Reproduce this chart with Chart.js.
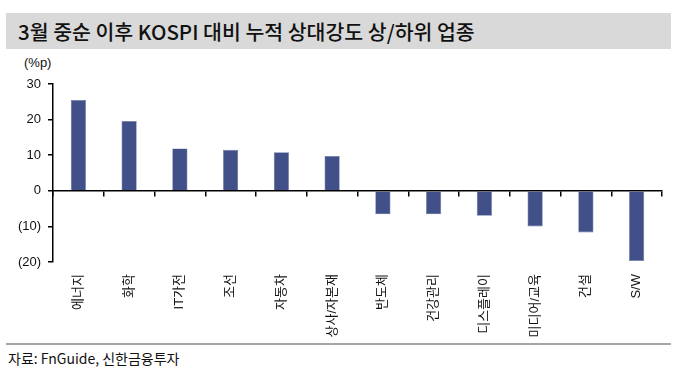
<!DOCTYPE html>
<html>
<head>
<meta charset="utf-8">
<script src="https://cdn.jsdelivr.net/npm/chart.js@4.4.0/dist/chart.umd.min.js"></script>
<style>
  html, body { margin: 0; padding: 0; background: #fff; }
  #wrap { position: relative; width: 682px; height: 379px; overflow: hidden; }
  #band { position: absolute; left: 6px; top: 13px; width: 665px; height: 36px; background: #d9d9d9; }
  #title { position: absolute; left: 18px; top: 13px; height: 36px; line-height: 36px; font-family: "Noto Sans CJK KR", sans-serif; font-size: 20.5px; font-weight: 500; color: #111; letter-spacing: 0; }
  #unit { position: absolute; left: 24px; top: 55px; font-family: "Liberation Sans", "Noto Sans CJK KR", sans-serif; font-size: 13px; color: #111; }
  #rule { position: absolute; left: 6px; top: 343px; width: 665px; height: 2px; background: #a6a6a6; }
  #src { position: absolute; left: 8px; top: 348px; font-family: "Noto Sans CJK KR", sans-serif; font-size: 14px; color: #111; }
  #cv { position: absolute; left: 0; top: 0; width: 682px; height: 379px; }
</style>
</head>
<body>
<div id="wrap">
  <div id="band"></div>
  <div id="title">3월 중순 이후 KOSPI 대비 누적 상대강도 상/하위 업종</div>
  <div id="unit">(%p)</div>
  <div id="rule"></div>
  <div id="src">자료: FnGuide, 신한금융투자</div>
  <div id="cv"><canvas id="c"></canvas></div>
</div>
<script>
const categories = ["에너지", "화학", "IT가전", "조선", "자동차", "상사/자본재", "반도체", "건강관리", "디스플레이", "미디어/교육", "건설", "S/W"];
const values = [25.5, 19.6, 11.9, 11.5, 10.8, 9.8, -6.6, -6.6, -7.0, -10.0, -11.7, -19.7];
const yTicks = [30, 20, 10, 0, -10, -20];

const fontFam = '"Liberation Sans", "Noto Sans CJK KR", sans-serif';

new Chart(document.getElementById('c'), {
  type: 'bar',
  data: {
    labels: categories,
    datasets: [{
      data: values,
      backgroundColor: '#42508a',
      borderColor: '#6e7aa8',
      borderWidth: 0.6,
      barPercentage: 0.6,
      categoryPercentage: 0.5,
      xAxisID: 'x',
      yAxisID: 'y'
    }]
  },
  options: {
    responsive: true,
    maintainAspectRatio: false,
    animation: false,
    events: [],
    layout: { padding: { top: 84, right: 20, left: 0, bottom: 0 } },
    plugins: { legend: { display: false }, tooltip: { enabled: false } },
    scales: {
      y: {
        min: -20, max: 30,
        afterBuildTicks: (s) => { s.ticks = yTicks.map(v => ({ value: v })); },
        afterFit: (s) => { s.width = 53; },
        border: { display: true, color: '#000', width: 1.5 },
        grid: { display: true, drawOnChartArea: false, drawTicks: true, tickLength: 5, color: '#000', lineWidth: 1.5 },
        ticks: {
          color: '#111', padding: 7,
          font: { family: fontFam, size: 13 },
          callback: (v) => v < 0 ? '(' + Math.abs(v) + ')' : String(v)
        }
      },
      x: {
        position: { y: 0 },
        afterFit: (s) => { s.height = 0; },
        border: { display: true, color: '#000', width: 1.5 },
        grid: { display: true, offset: true, drawOnChartArea: false, drawTicks: true, tickLength: 5, color: '#000', lineWidth: 1.5 },
        ticks: { display: false }
      },
      x2: {
        type: 'category',
        position: 'bottom',
        labels: categories,
        offset: true,
        afterFit: (s) => { s.height = 117; },
        border: { display: false },
        grid: { display: false, drawTicks: false },
        ticks: {
          color: '#111', padding: 12, autoSkip: false,
          minRotation: 90, maxRotation: 90,
          font: { family: fontFam, size: 13 }
        }
      }
    }
  }
});
</script>
</body>
</html>
